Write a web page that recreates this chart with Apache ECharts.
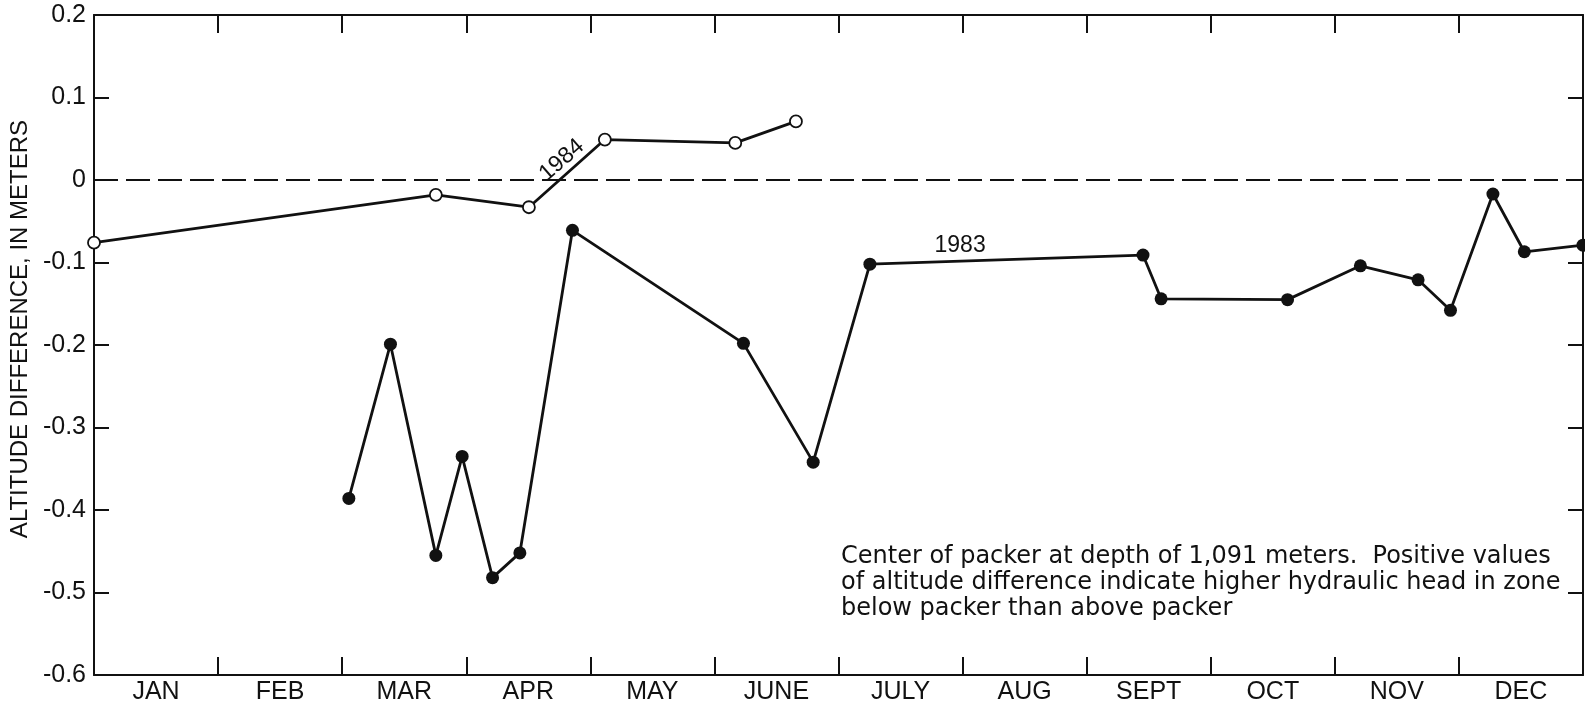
<!DOCTYPE html>
<html>
<head>
<meta charset="utf-8">
<script src="https://cdn.jsdelivr.net/npm/echarts@6/dist/echarts.min.js"></script>
<style>
  html, body { margin: 0; padding: 0; background: #fff; }
  #chart { width: 1585px; height: 712px; }
</style>
</head>
<body>
<div id="chart"></div>
<script>
// month labels (ticks sit on month boundaries, labels centred in each month)
const months = ['JAN', 'FEB', 'MAR', 'APR', 'MAY', 'JUNE', 'JULY', 'AUG', 'SEPT', 'OCT', 'NOV', 'DEC']

// x = position in months from 1 Jan, y = altitude difference (m)
const x1984 = [0, 2.755, 3.505, 4.117, 5.168, 5.657]
const y1984 = [-0.076, -0.018, -0.033, 0.049, 0.045, 0.071]

const x1983 = [2.054, 2.389, 2.755, 2.967, 3.212, 3.432, 3.856, 5.234, 5.796, 6.253,
  8.454, 8.600, 9.619, 10.206, 10.671, 10.932, 11.274, 11.527, 12.0]
const y1983 = [-0.386, -0.199, -0.455, -0.335, -0.482, -0.452, -0.061, -0.198, -0.342, -0.102,
  -0.091, -0.144, -0.145, -0.104, -0.121, -0.158, -0.017, -0.087, -0.079]

const yTitle = 'ALTITUDE DIFFERENCE, IN METERS'
const note = [
  'Center of packer at depth of 1,091 meters.  Positive values',
  'of altitude difference indicate higher hydraulic head in zone',
  'below packer than above packer'
]

const FONT = '"Liberation Sans", Arial, sans-serif'
const INK = '#111'

const pairs = (xs, ys) => xs.map((x, i) => [x, ys[i]])

const chart = echarts.init(document.getElementById('chart'))

const frameLine = { show: true, onZero: false, lineStyle: { color: INK, width: 2 } }
const innerTick = len => ({ show: true, inside: true, length: len, lineStyle: { color: INK, width: 2 } })

const option = {
  animation: false,
  backgroundColor: '#fff',
  grid: { left: 94, right: 2, top: 15, bottom: 37, containLabel: false },
  xAxis: [
    {
      type: 'category',
      data: months,
      position: 'bottom',
      boundaryGap: true,
      axisLine: frameLine,
      axisTick: { ...innerTick(18), interval: 0, alignWithLabel: false },
      axisLabel: { color: INK, fontSize: 25, fontFamily: FONT, margin: 5, interval: 0 },
      splitLine: { show: false }
    },
    {
      type: 'value',
      min: 0,
      max: 12,
      interval: 1,
      position: 'top',
      axisLine: frameLine,
      axisTick: innerTick(18),
      axisLabel: { show: false },
      splitLine: { show: false }
    }
  ],
  yAxis: [
    {
      type: 'value',
      min: -0.6,
      max: 0.2,
      interval: 0.1,
      position: 'left',
      axisLine: frameLine,
      axisTick: innerTick(15),
      axisLabel: {
        color: INK, fontSize: 25, fontFamily: FONT, margin: 8,
        formatter: v => (Math.abs(v) < 1e-9 ? '0' : v.toFixed(1))
      },
      splitLine: { show: false }
    },
    {
      type: 'value',
      min: -0.6,
      max: 0.2,
      interval: 0.1,
      position: 'right',
      axisLine: frameLine,
      axisTick: innerTick(15),
      axisLabel: { show: false },
      splitLine: { show: false }
    }
  ],
  series: [
    {
      name: '1984',
      type: 'line',
      xAxisIndex: 1,
      yAxisIndex: 0,
      data: pairs(x1984, y1984),
      clip: false,
      symbol: 'circle',
      symbolSize: 12,
      showAllSymbol: true,
      lineStyle: { color: INK, width: 2.8 },
      itemStyle: { color: '#fff', borderColor: INK, borderWidth: 1.8 },
      z: 3,
      markLine: {
        silent: true,
        symbol: 'none',
        label: { show: false },
        lineStyle: { color: INK, width: 1.8, type: [24, 8] },
        data: [{ yAxis: 0 }]
      },
      markPoint: {
        symbol: 'circle',
        symbolSize: 0,
        label: {
          show: true, formatter: '1984', color: INK, fontSize: 23, fontFamily: FONT,
          rotate: 41
        },
        data: [{ coord: [3.77, 0.024] }]
      }
    },
    {
      name: '1983',
      type: 'line',
      xAxisIndex: 1,
      yAxisIndex: 0,
      data: pairs(x1983, y1983),
      clip: false,
      symbol: 'circle',
      symbolSize: 13,
      showAllSymbol: true,
      lineStyle: { color: INK, width: 2.8 },
      itemStyle: { color: INK },
      z: 3,
      markPoint: {
        symbol: 'circle',
        symbolSize: 0,
        label: { show: true, formatter: '1983', color: INK, fontSize: 23, fontFamily: FONT },
        data: [{ coord: [6.98, -0.08] }]
      }
    }
  ],
  graphic: [
    {
      // y-axis title, sits a little above the plot's middle in the original
      type: 'text',
      x: 20,
      y: 329,
      rotation: Math.PI / 2,
      style: {
        text: yTitle,
        fill: INK,
        font: '24px ' + FONT,
        align: 'center',
        verticalAlign: 'middle'
      }
    },
    {
      type: 'text',
      left: 841,
      top: 544,
      style: {
        text: note.join('\n'),
        fill: INK,
        font: '24px "DejaVu Sans", sans-serif',
        lineHeight: 26
      }
    }
  ]
}

chart.setOption(option)
</script>
</body>
</html>
